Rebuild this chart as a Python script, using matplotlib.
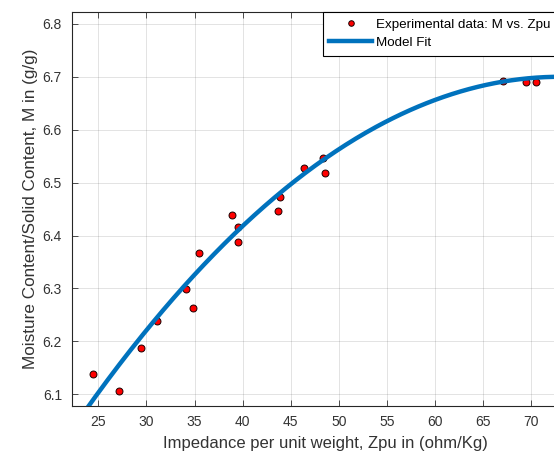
import numpy as np
import matplotlib
matplotlib.use("Agg")
import matplotlib.pyplot as plt

plt.rcParams['font.family'] = ['Liberation Sans', 'DejaVu Sans']

# Experimental data
zpu = [24.4, 27.1, 29.4, 31.1, 34.1, 34.8, 35.5, 38.9, 39.5, 39.5,
       43.7, 43.9, 46.4, 48.4, 48.6, 67.1, 69.5, 70.5]
moisture = [6.139, 6.106, 6.188, 6.239, 6.299, 6.263, 6.367, 6.439, 6.417, 6.387,
            6.446, 6.472, 6.528, 6.546, 6.518, 6.692, 6.690, 6.690]

# Model fit (quadratic, vertex form): M = a*(Z - z0)^2 + m_max
fit_a = -0.000259
fit_z0 = 73.0
fit_mmax = 6.700
fit_range = [23.5, 76.0]

x_ticks = [25, 30, 35, 40, 45, 50, 55, 60, 65, 70]
y_ticks = [6.1, 6.2, 6.3, 6.4, 6.5, 6.6, 6.7, 6.8]

W, H = 554, 458
fig = plt.figure(figsize=(W / 100, H / 100), dpi=100)
left = 71.7 / W
bottom = 1 - 405.7 / H
top = 1 - 11.7 / H
right = 579.3 / W
ax = fig.add_axes([left, bottom, right - left, top - bottom])

zf = np.linspace(fit_range[0], fit_range[1], 300)
mf = fit_a * (zf - fit_z0) ** 2 + fit_mmax

ax.plot(zpu, moisture, 'o', markerfacecolor='red', markeredgecolor='#1a0000',
        markersize=5.0, markeredgewidth=0.7, zorder=3,
        label='Experimental data: M vs. Zpu')
ax.plot(zf, mf, '-', color='#0072BD', linewidth=3.2, zorder=4, label='Model Fit')

ax.set_xlim(22.23, 75.0)
ax.set_ylim(6.0785, 6.823)
ax.set_xticks(x_ticks)
ax.set_yticks(y_ticks)
ax.set_xticklabels([str(t) for t in x_ticks])
ax.set_yticklabels([f"{t:.1f}" for t in y_ticks])

ax.grid(True, color='#262626', alpha=0.15, linewidth=0.6)
ax.set_axisbelow(True)
ax.tick_params(direction='in', top=True, right=True, length=4, width=0.6,
               colors='#333333', labelsize=10, pad=7)
for s in ax.spines.values():
    s.set_color('#262626')
    s.set_linewidth(0.8)

ax.set_xlabel('Impedance per unit weight, Zpu in (ohm/Kg)', fontsize=12,
              color='#333333', labelpad=5)
ax.set_ylabel('Moisture Content/Solid Content, M in (g/g)', fontsize=12.3,
              color='#333333', labelpad=3)

leg = ax.legend(loc='upper left', bbox_to_anchor=(322.7 / W, 1 - 11.7 / H),
                bbox_transform=fig.transFigure, fontsize=9.6, frameon=True,
                fancybox=False, edgecolor='black', framealpha=1,
                handlelength=3.2, handletextpad=0.3, borderpad=0.5,
                labelspacing=0.45, borderaxespad=0, markerscale=0.8)
leg.get_frame().set_linewidth(0.8)

fig.savefig('out.png', dpi=100)
